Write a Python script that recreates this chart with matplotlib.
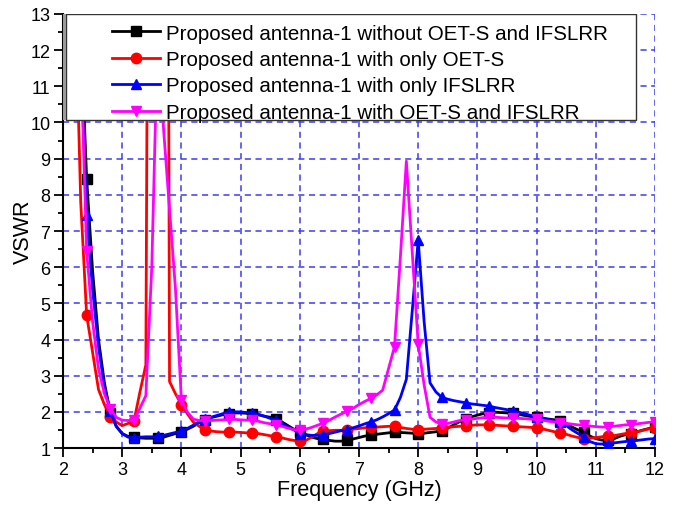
import numpy as np
import matplotlib
matplotlib.use("Agg")
import matplotlib.pyplot as plt
from matplotlib.patches import Rectangle

plt.rcParams['font.family'] = ['Liberation Sans', 'DejaVu Sans']

freq = [round(2.0 + 0.1 * i, 1) for i in range(101)]

labels = [
    "Proposed antenna-1 without OET-S and IFSLRR",
    "Proposed antenna-1 with only OET-S",
    "Proposed antenna-1 with only IFSLRR",
    "Proposed antenna-1 with OET-S and IFSLRR",
]

# black: without OET-S and IFSLRR
vswr_none = [
    16.0, 15.0, 14.0, 12.5, 8.44, 5.9, 4.0, 2.8, 1.96, 1.6,      # 2.0-2.9
    1.4, 1.32, 1.3, 1.28, 1.27, 1.27, 1.27, 1.3, 1.35, 1.4,      # 3.0-3.9
    1.45, 1.52, 1.6, 1.7, 1.78, 1.84, 1.88, 1.92, 1.95, 1.97,    # 4.0-4.9
    1.97, 1.96, 1.95, 1.92, 1.88, 1.85, 1.81, 1.72, 1.62, 1.52,  # 5.0-5.9
    1.44, 1.37, 1.3, 1.26, 1.24, 1.21, 1.19, 1.19, 1.21, 1.25,   # 6.0-6.9
    1.29, 1.33, 1.36, 1.38, 1.4, 1.42, 1.43, 1.43, 1.42, 1.41,   # 7.0-7.9
    1.4, 1.41, 1.43, 1.45, 1.48, 1.55, 1.64, 1.73, 1.8, 1.86,    # 8.0-8.9
    1.91, 1.95, 1.98, 1.99, 1.98, 1.97, 1.96, 1.93, 1.9, 1.87,   # 9.0-9.9
    1.85, 1.82, 1.8, 1.78, 1.76, 1.68, 1.58, 1.5, 1.44, 1.33,    # 10.0-10.9
    1.26, 1.22, 1.21, 1.25, 1.32, 1.37, 1.4, 1.45, 1.5, 1.54,    # 11.0-11.9
    1.58,                                                        # 12.0
]

# red: with only OET-S
vswr_oets = [
    16.0, 15.0, 14.0, 7.8, 4.67, 3.65, 2.62, 2.2, 1.86, 1.72,    # 2.0-2.9
    1.62, 1.68, 1.75, 2.55, 3.3, 40.0, 40.0, 60.0, 2.84, 2.5,    # 3.0-3.9
    2.2, 1.95, 1.72, 1.6, 1.49, 1.47, 1.45, 1.44, 1.44, 1.44,    # 4.0-4.9
    1.43, 1.42, 1.42, 1.4, 1.37, 1.34, 1.31, 1.28, 1.24, 1.21,   # 5.0-5.9
    1.19, 1.21, 1.3, 1.4, 1.46, 1.48, 1.49, 1.49, 1.5, 1.52,     # 6.0-6.9
    1.54, 1.56, 1.57, 1.58, 1.59, 1.6, 1.6, 1.57, 1.54, 1.52,    # 7.0-7.9
    1.51, 1.52, 1.53, 1.54, 1.55, 1.57, 1.59, 1.6, 1.62, 1.63,   # 8.0-8.9
    1.64, 1.64, 1.64, 1.63, 1.62, 1.61, 1.6, 1.59, 1.58, 1.57,   # 9.0-9.9
    1.56, 1.53, 1.49, 1.45, 1.42, 1.38, 1.33, 1.29, 1.26, 1.27,  # 10.0-10.9
    1.29, 1.31, 1.32, 1.34, 1.37, 1.4, 1.42, 1.45, 1.49, 1.53,   # 11.0-11.9
    1.56,                                                        # 12.0
]

# blue: with only IFSLRR
vswr_ifslrr = [
    16.0, 15.0, 14.0, 11.7, 7.43, 5.4, 3.8, 2.7, 2.02, 1.6,      # 2.0-2.9
    1.4, 1.3, 1.28, 1.3, 1.31, 1.31, 1.32, 1.35, 1.39, 1.43,     # 3.0-3.9
    1.46, 1.54, 1.63, 1.72, 1.8, 1.85, 1.9, 1.95, 1.99, 2.0,     # 4.0-4.9
    2.0, 1.98, 1.97, 1.93, 1.88, 1.82, 1.77, 1.68, 1.58, 1.5,    # 5.0-5.9
    1.4, 1.37, 1.35, 1.35, 1.36, 1.4, 1.44, 1.48, 1.51, 1.56,    # 6.0-6.9
    1.61, 1.67, 1.72, 1.78, 1.86, 1.95, 2.05, 2.4, 2.9, 4.8,     # 7.0-7.9
    6.75, 4.5, 2.8, 2.55, 2.4, 2.35, 2.31, 2.28, 2.25, 2.22,     # 8.0-8.9
    2.2, 2.18, 2.16, 2.12, 2.09, 2.06, 2.03, 1.99, 1.95, 1.9,    # 9.0-9.9
    1.86, 1.83, 1.79, 1.75, 1.72, 1.62, 1.5, 1.4, 1.31, 1.18,    # 10.0-10.9
    1.12, 1.11, 1.12, 1.14, 1.16, 1.18, 1.19, 1.21, 1.23, 1.25,  # 11.0-11.9
    1.26,                                                        # 12.0
]

# magenta: with OET-S and IFSLRR
vswr_both = [
    16.0, 15.0, 14.0, 12.0, 6.45, 4.5, 3.2, 2.5, 2.09, 1.85,     # 2.0-2.9
    1.77, 1.76, 1.77, 2.1, 2.45, 6.0, 12.5, 9.8, 7.6, 5.4,       # 3.0-3.9
    2.33, 2.0, 1.8, 1.76, 1.76, 1.76, 1.77, 1.78, 1.79, 1.79,    # 4.0-4.9
    1.78, 1.77, 1.77, 1.74, 1.7, 1.67, 1.64, 1.6, 1.55, 1.51,    # 5.0-5.9
    1.49, 1.52, 1.57, 1.63, 1.69, 1.77, 1.86, 1.94, 2.02, 2.1,   # 6.0-6.9
    2.2, 2.29, 2.37, 2.47, 2.6, 3.2, 3.8, 6.3, 8.93, 6.4,        # 7.0-7.9
    3.88, 2.75, 1.85, 1.72, 1.66, 1.68, 1.72, 1.76, 1.78, 1.8,   # 8.0-8.9
    1.82, 1.84, 1.85, 1.85, 1.84, 1.83, 1.83, 1.82, 1.81, 1.8,   # 9.0-9.9
    1.79, 1.77, 1.74, 1.72, 1.7, 1.68, 1.66, 1.64, 1.63, 1.61,   # 10.0-10.9
    1.59, 1.58, 1.58, 1.6, 1.62, 1.64, 1.65, 1.67, 1.69, 1.71,   # 11.0-11.9
    1.73,                                                        # 12.0
]

series = [vswr_none, vswr_oets, vswr_ifslrr, vswr_both]
colors = ["#000000", "#FF0000", "#0000FF", "#FF00FF"]
markers = ["s", "o", "^", "v"]

fig = plt.figure(figsize=(6.83, 5.06), dpi=100)
ax = fig.add_axes([0.0922, 0.1126, 0.8668, 0.8578])

for ys, c, m, lab in zip(series, colors, markers, labels):
    ax.plot(freq, ys, color=c, lw=2.0, marker=m, markersize=7.5,
            markevery=4, label=lab, zorder=3, clip_on=True)

ax.set_xlim(2, 12)
ax.set_ylim(1, 13)
ax.set_xticks(range(2, 13))
ax.set_yticks(range(1, 14))
ax.set_xticks(np.arange(2.5, 12, 1.0), minor=True)
ax.set_yticks(np.arange(1.5, 13, 1.0), minor=True)

for s in ["top", "right"]:
    ax.spines[s].set_visible(False)
for s in ["left", "bottom"]:
    ax.spines[s].set_linewidth(1.5)

ax.tick_params(which="major", direction="out", length=6.5, width=1.3,
               labelsize=13, pad=2.5)
ax.tick_params(which="minor", direction="out", length=3.6, width=1.3)

ax.grid(True, which="major", color="#3c3cf0", linestyle=(0, (4, 3)),
        linewidth=1.1, zorder=1)
ax.set_axisbelow(True)

ax.set_xlabel("Frequency (GHz)", fontsize=15.5, labelpad=1)
ax.set_ylabel("VSWR", fontsize=15.5, labelpad=-2.5)

# legend frame
frame = Rectangle((0.005, 0.756), 0.963, 0.244, transform=ax.transAxes,
                  facecolor="white", edgecolor="#333333", lw=1.0, zorder=5)
ax.add_patch(frame)
strip = Rectangle((0.0, 0.756), 0.005, 0.244, transform=ax.transAxes,
                  facecolor="#9a9a9a", edgecolor="none", zorder=5)
ax.add_patch(strip)

leg = ax.legend(loc="upper left", bbox_to_anchor=(0.083, 0.978),
                frameon=False, fontsize=14.8, handlelength=2.33,
                handletextpad=0.29, labelspacing=0.36, borderpad=0.0,
                borderaxespad=0.0)
leg.set_zorder(6)

fig.savefig("out.png", dpi=100, facecolor="white")
